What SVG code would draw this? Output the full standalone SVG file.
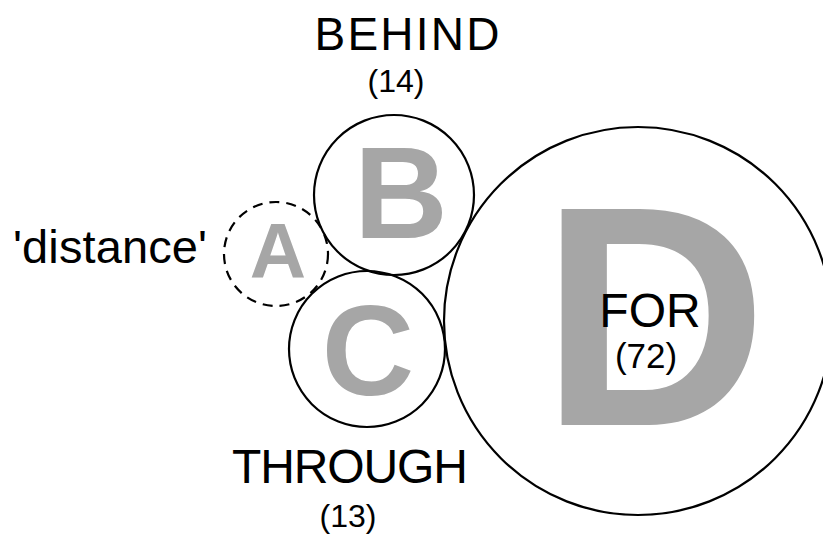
<svg xmlns="http://www.w3.org/2000/svg" width="823" height="536" viewBox="0 0 823 536">
  <style>
    .ring { fill: none; stroke: #000; stroke-width: 2.2; }
    .dashed { stroke-dasharray: 10 7; }
    .big { font-family: "Liberation Sans", Arial, sans-serif; font-weight: bold; fill: #a6a6a6; text-anchor: middle; }
    .lbl { font-family: "Liberation Sans", Arial, sans-serif; fill: #000; text-anchor: middle; }
  </style>
  <rect width="823" height="536" fill="#fff"/>

  <g id="node-D">
    <circle class="ring" cx="638" cy="321" r="194"/>
    <text class="big" x="654" y="425" font-size="314">D</text>
    <text class="lbl" x="650" y="327" font-size="48">FOR</text>
    <text class="lbl" x="646" y="368" font-size="35">(72)</text>
  </g>

  <g id="node-B">
    <circle class="ring" cx="394" cy="195" r="80"/>
    <text class="big" x="401" y="238" font-size="130">B</text>
    <text class="lbl" x="407" y="50" font-size="46" textLength="185" lengthAdjust="spacing">BEHIND</text>
    <text class="lbl" x="396" y="92" font-size="32">(14)</text>
  </g>

  <g id="node-C">
    <circle class="ring" cx="367" cy="349" r="78"/>
    <text class="big" x="368" y="395" font-size="128">C</text>
    <text class="lbl" x="350" y="483" font-size="48" textLength="236" lengthAdjust="spacing">THROUGH</text>
    <text class="lbl" x="348" y="527" font-size="32">(13)</text>
  </g>

  <g id="node-A">
    <circle class="ring dashed" cx="276" cy="254" r="52"/>
    <text class="big" x="278" y="278" font-size="78">A</text>
    <text class="lbl" x="110" y="263" font-size="47" textLength="194" lengthAdjust="spacing">'distance'</text>
  </g>

  <g id="connectors"/>
</svg>
